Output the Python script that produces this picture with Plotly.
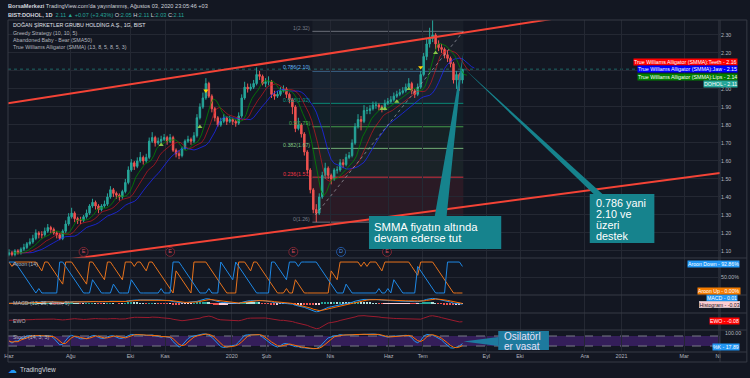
import numpy as np
import pandas as pd
import plotly.graph_objects as go

# ---------------- data (1 candle = 2 sessions) ----------------
close = [1.09,1.08,1.10,1.09,1.11,1.12,1.14,1.15,1.17,1.20,
         1.19,1.19,1.21,1.23,1.22,1.20,1.19,1.17,1.21,1.25,
         1.29,1.31,1.28,1.27,1.27,1.29,1.31,1.35,1.37,1.35,
         1.33,1.35,1.36,1.40,1.44,1.42,1.41,1.40,1.43,1.48,
         1.55,1.59,1.57,1.60,1.62,1.60,1.62,1.71,1.73,1.70,
         1.71,1.72,1.73,1.71,1.73,1.66,1.64,1.63,1.67,1.71,
         1.72,1.71,1.74,1.84,1.90,1.95,2.03,1.96,1.89,1.84,
         1.80,1.82,1.84,1.82,1.83,1.82,1.81,1.85,1.95,2.01,
         2.00,2.01,2.03,2.08,2.07,2.03,2.04,2.04,1.97,1.96,
         1.97,1.99,2.00,1.97,1.94,1.90,1.78,1.80,1.75,1.65,
         1.55,1.44,1.33,1.31,1.40,1.52,1.56,1.52,1.50,1.55,
         1.55,1.59,1.58,1.62,1.63,1.70,1.79,1.83,1.82,1.88,
         1.88,1.89,1.91,1.91,1.90,1.89,1.92,1.93,1.94,1.96,
         1.97,1.98,1.99,2.01,2.03,1.99,1.97,2.01,2.08,2.18,
         2.25,2.28,2.30,2.25,2.23,2.22,2.19,2.17,2.14,2.05,
         2.08,2.05,2.11]
high = [1.11,1.10,1.11,1.11,1.12,1.14,1.15,1.17,1.19,1.22,
        1.21,1.21,1.23,1.25,1.24,1.23,1.21,1.20,1.22,1.27,
        1.31,1.34,1.32,1.29,1.29,1.30,1.33,1.36,1.39,1.38,
        1.36,1.36,1.38,1.42,1.46,1.45,1.43,1.42,1.44,1.50,
        1.57,1.61,1.60,1.62,1.65,1.63,1.64,1.73,1.76,1.74,
        1.73,1.74,1.75,1.74,1.75,1.74,1.67,1.66,1.68,1.72,
        1.74,1.73,1.76,1.86,1.92,1.98,2.06,2.04,1.97,1.90,
        1.85,1.84,1.86,1.85,1.85,1.84,1.83,1.87,1.97,2.04,
        2.03,2.03,2.05,2.12,2.10,2.08,2.06,2.07,2.05,1.99,
        1.99,2.01,2.02,2.01,1.98,1.95,1.91,1.84,1.81,1.76,
        1.66,1.56,1.45,1.36,1.42,1.54,1.59,1.57,1.53,1.56,
        1.57,1.61,1.61,1.64,1.65,1.72,1.81,1.86,1.85,1.91,
        1.90,1.91,1.93,1.93,1.92,1.91,1.94,1.95,1.96,1.98,
        1.99,2.00,2.01,2.03,2.06,2.04,2.00,2.03,2.10,2.20,
        2.28,2.34,2.40,2.31,2.27,2.25,2.23,2.21,2.18,2.15,
        2.10,2.09,2.11]
low = [1.07,1.07,1.07,1.08,1.08,1.10,1.11,1.13,1.14,1.16,
       1.17,1.17,1.18,1.20,1.20,1.19,1.17,1.16,1.16,1.20,
       1.24,1.28,1.26,1.25,1.25,1.26,1.28,1.30,1.34,1.33,
       1.31,1.32,1.34,1.35,1.39,1.40,1.39,1.38,1.39,1.42,
       1.47,1.54,1.55,1.56,1.59,1.58,1.59,1.61,1.70,1.68,
       1.69,1.70,1.71,1.69,1.70,1.65,1.62,1.61,1.62,1.66,
       1.70,1.69,1.70,1.73,1.83,1.89,1.94,1.95,1.87,1.82,
       1.79,1.79,1.81,1.80,1.81,1.80,1.79,1.80,1.84,1.94,
       1.98,1.99,2.00,2.02,2.05,2.02,2.01,2.02,1.95,1.94,
       1.95,1.96,1.98,1.95,1.92,1.86,1.76,1.77,1.73,1.63,
       1.53,1.42,1.31,1.26,1.30,1.39,1.50,1.50,1.47,1.49,
       1.53,1.54,1.56,1.57,1.61,1.62,1.69,1.78,1.77,1.81,
       1.86,1.86,1.88,1.89,1.88,1.87,1.88,1.91,1.92,1.93,
       1.95,1.96,1.97,1.98,2.00,1.97,1.95,1.96,2.00,2.07,
       2.16,2.23,2.26,2.22,2.21,2.20,2.17,2.15,2.12,2.03,
       2.00,1.99,2.03]
open_first = 1.08

month_labels = ["Haz", "Ağu", "Eki", "Kas", "2020", "Şub", "Nis", "Haz", "Tem",
                "Eyl", "Eki", "Ara", "2021", "Mar", "Ni"]
month_pos = [0, 20.7, 40.7, 52.3, 74.7, 86.3, 107.7, 127.3, 138.7,
             160, 171.3, 193, 205.3, 226.3, 237.7]

price_ticks = [1.10, 1.20, 1.30, 1.40, 1.50, 1.60, 1.70, 1.80, 1.90, 2.00, 2.10, 2.20, 2.30]
hidden_ticks = [2.10]   # covered by the value tags in the reference

fib_ratios = ["0", "0.236", "0.382", "0.5", "0.618", "0.786", "1"]
fib_prices = [1.26, 1.51, 1.67, 1.79, 1.92, 2.10, 2.32]
fib_colors = ["#787b86", "#f23645", "#81c784", "#4caf50", "#089981", "#64b5f6", "#787b86"]
fib_x = [101.7, 152.3]
fib_trend_x = [102.7, 152.3]
fib_trend_y = [1.30, 2.32]

upper_ch_x = [-1.67, 158.3]
upper_ch_y = [1.917, 2.328]
lower_ch_x = [91.7, 238.3]
lower_ch_y = [1.211, 1.533]

greedy_x = [51, 64, 66, 125, 126, 130, 134, 138, 143]
greedy_y = [1.69, 1.79, 1.99, 1.89, 1.89, 1.93, 2.00, 2.12, 2.20]
greedy_up = [True, True, False, True, True, True, True, False, True]

baby_x = [25, 54, 95.3, 111.3, 126.7]
baby_letter = ["E", "E", "E", "D", "E"]
baby_level = 1.095

alligator_len = [6.5, 4, 2.5]      # jaw, teeth, lips (13, 8, 5 sessions)
alligator_shift = [4, 2.5, 1.5]    # (8, 5, 3 sessions)

price_tags = [("True Williams Alligator (SMMA):Teeth", "2.16", "#ff0000"),
              ("True Williams Alligator (SMMA):Jaw", "2.15", "#0000ff"),
              ("True Williams Alligator (SMMA):Lips", "2.14", "#008000"),
              ("DOHOL", "2.11", "#26a69a")]
last_price = 2.11

# ---------------- geometry helpers ----------------
W, H = 750, 378
ML, MR, MT, MB = 4, 30, 20, 16
PW = W - ML - MR
PH = H - MT - MB
def X(px): return (px - ML) / PW
def Y(py): return (H - MB - py) / PH
def u(px): return (px - 5) / 3.0

BG = "#131722"
GRID = "#242833"
SEP = "#363a45"
TXT = "#b2b5be"
FONT = "Liberation Sans"
UP, DN = "#26a69a", "#ef5350"

c = np.array(close); h = np.array(high); l = np.array(low)
o = np.array([open_first] + close[:-1])
n = len(c)
xs = np.arange(n)

# ---------------- indicators computed from the price arrays ----------------
hl2 = (h + l) / 2
def smma(src, length):
    out = np.empty_like(src); out[0] = src[0]
    for i in range(1, len(src)):
        out[i] = (out[i - 1] * (length - 1) + src[i]) / length
    return out
jaw, teeth, lips = (smma(hl2, L) for L in alligator_len)

P = 7
a_up, a_dn = [], []
for i in range(n):
    s = max(0, i - P)
    wh, wl = h[s:i + 1], l[s:i + 1]
    jh = s + len(wh) - 1 - int(np.argmax(wh[::-1]))
    jl = s + len(wl) - 1 - int(np.argmin(wl[::-1]))
    a_up.append(100 * (P - (i - jh)) / P)
    a_dn.append(100 * (P - (i - jl)) / P)

cs = pd.Series(c)
macd = cs.ewm(span=6, adjust=False).mean() - cs.ewm(span=13, adjust=False).mean()
sig = macd.ewm(span=4.5, adjust=False).mean()
hist = (macd - sig).values
hcol = []
for i in range(n):
    prev = hist[i - 1] if i else 0
    if hist[i] >= 0:
        hcol.append("#26a69a" if hist[i] >= prev else "#b2dfdb")
    else:
        hcol.append("#ffcdd2" if hist[i] > prev else "#ef5350")
ewo = (cs.rolling(3, min_periods=1).mean() - cs.rolling(17, min_periods=1).mean()).values

ll = pd.Series(l).rolling(7, min_periods=1).min()
hh = pd.Series(h).rolling(7, min_periods=1).max()
raw = (100 * (cs - ll) / (hh - ll).replace(0, np.nan)).fillna(50)
stk = raw.rolling(3, min_periods=1).mean()
std = stk.rolling(3, min_periods=1).mean()

# ---------------- figure ----------------
fig = go.Figure()
shapes, ann = [], []

def rgba(hexc, a):
    hexc = hexc.lstrip("#")
    return "rgba(%d,%d,%d,%.2f)" % (int(hexc[0:2], 16), int(hexc[2:4], 16), int(hexc[4:6], 16), a)

YMAIN = [1.061, 2.383]
XR = [u(ML), u(ML + PW)]

# fib bands + levels
for k in range(len(fib_prices)):
    y0 = fib_prices[k]
    y1 = fib_prices[k + 1] if k + 1 < len(fib_prices) else YMAIN[1]
    col = fib_colors[k + 1] if k + 1 < len(fib_prices) else "#787b86"
    shapes.append(dict(type="rect", xref="x", yref="y", x0=fib_x[0], x1=fib_x[1], y0=y0, y1=y1,
                       fillcolor=rgba(col, 0.10 if k == 0 else 0.07), line=dict(width=0), layer="below"))
for k, p in enumerate(fib_prices):
    shapes.append(dict(type="line", xref="x", yref="y", x0=fib_x[0], x1=fib_x[1], y0=p, y1=p,
                       line=dict(color=rgba(fib_colors[k], 0.85), width=1), layer="below"))
    ann.append(dict(xref="x", yref="y", x=fib_x[0], y=p, yshift=3.5, text="%s(%.2f)" % (fib_ratios[k], p),
                    showarrow=False, xanchor="right", yanchor="middle",
                    font=dict(size=5.3, color=fib_colors[k], family=FONT)))

# last price dotted line
shapes.append(dict(type="line", xref="paper", yref="y", x0=0, x1=1, y0=last_price, y1=last_price,
                   line=dict(color="rgba(38,166,154,0.55)", width=1, dash="dot"), layer="below"))

fig.add_trace(go.Candlestick(x=xs, open=o, high=h, low=l, close=c,
                             increasing=dict(line=dict(color=UP, width=1), fillcolor=UP),
                             decreasing=dict(line=dict(color=DN, width=1), fillcolor=DN),
                             whiskerwidth=0, xaxis="x", yaxis="y", showlegend=False, hoverinfo="skip"))

for arr, sh, col in [(jaw, alligator_shift[0], "rgba(30,40,255,0.75)"),
                     (teeth, alligator_shift[1], "rgba(230,20,30,0.6)"),
                     (lips, alligator_shift[2], "rgba(0,140,0,0.75)")]:
    fig.add_trace(go.Scatter(x=xs + sh, y=arr, mode="lines", line=dict(color=col, width=1),
                             xaxis="x", yaxis="y", showlegend=False, hoverinfo="skip"))

def extend(xp, yp):
    s = (yp[1] - yp[0]) / (xp[1] - xp[0])
    return [XR[0], XR[1]], [yp[0] + s * (XR[0] - xp[0]), yp[0] + s * (XR[1] - xp[0])]
for xp, yp in [(upper_ch_x, upper_ch_y), (lower_ch_x, lower_ch_y)]:
    ex, ey = extend(xp, yp)
    fig.add_trace(go.Scatter(x=ex, y=ey, mode="lines", line=dict(color="#f44336", width=2),
                             xaxis="x", yaxis="y", showlegend=False, hoverinfo="skip"))

fig.add_trace(go.Scatter(x=fib_trend_x, y=fib_trend_y, mode="lines",
                         line=dict(color="rgba(180,183,192,0.6)", width=1, dash="dot"),
                         xaxis="x", yaxis="y", showlegend=False, hoverinfo="skip"))

fig.add_trace(go.Scatter(x=greedy_x, y=greedy_y, mode="markers",
                         marker=dict(symbol=["triangle-up" if g else "triangle-down" for g in greedy_up],
                                     size=4.5, color=["#8bc34a" if g else "#ffd600" for g in greedy_up]),
                         xaxis="x", yaxis="y", showlegend=False, hoverinfo="skip"))

fig.add_trace(go.Scatter(x=baby_x, y=[baby_level] * len(baby_x), mode="markers+text",
                         text=baby_letter, textposition="middle center",
                         textfont=dict(size=5.5, family=FONT,
                                       color=["#d04a5a" if b == "E" else "#4d8fe0" for b in baby_letter]),
                         marker=dict(size=9, color=BG,
                                     line=dict(width=1, color=["#7a2633" if b == "E" else "#23569e" for b in baby_letter])),
                         xaxis="x", yaxis="y", showlegend=False, hoverinfo="skip"))

# Aroon
fig.add_trace(go.Scatter(x=xs, y=a_up, mode="lines", line=dict(color="#e8731c", width=1),
                         xaxis="x2", yaxis="y2", showlegend=False, hoverinfo="skip"))
fig.add_trace(go.Scatter(x=xs, y=a_dn, mode="lines", line=dict(color="#1e88e5", width=1),
                         xaxis="x2", yaxis="y2", showlegend=False, hoverinfo="skip"))
# MACD
fig.add_trace(go.Bar(x=xs, y=hist, marker=dict(color=hcol, line=dict(width=0)), width=0.6,
                     xaxis="x3", yaxis="y3", showlegend=False, hoverinfo="skip"))
fig.add_trace(go.Scatter(x=xs, y=macd, mode="lines", line=dict(color="#2196f3", width=1),
                         xaxis="x3", yaxis="y3", showlegend=False, hoverinfo="skip"))
fig.add_trace(go.Scatter(x=xs, y=sig, mode="lines", line=dict(color="#ff6d00", width=1),
                         xaxis="x3", yaxis="y3", showlegend=False, hoverinfo="skip"))
# EWO
fig.add_trace(go.Scatter(x=xs, y=ewo, mode="lines", line=dict(color="#9c1b2e", width=1),
                         xaxis="x4", yaxis="y4", showlegend=False, hoverinfo="skip"))
# Stoch
shapes.append(dict(type="rect", xref="paper", yref="y5", x0=0, x1=1, y0=20, y1=80,
                   fillcolor="rgba(94,40,160,0.45)", line=dict(width=0), layer="below"))
for lv in (20, 80):
    shapes.append(dict(type="line", xref="paper", yref="y5", x0=0, x1=1, y0=lv, y1=lv,
                       line=dict(color="#787b86", width=1, dash="dash"), layer="below"))
fig.add_trace(go.Scatter(x=xs, y=stk, mode="lines", line=dict(color="#2196f3", width=1),
                         xaxis="x5", yaxis="y5", showlegend=False, hoverinfo="skip"))
fig.add_trace(go.Scatter(x=xs, y=std, mode="lines", line=dict(color="#ff6d00", width=1),
                         xaxis="x5", yaxis="y5", showlegend=False, hoverinfo="skip"))

def rng(*arrs, top=0.12, bot=0.12):
    v = np.concatenate([np.asarray(a, dtype=float) for a in arrs])
    lo, hi = np.nanmin(v), np.nanmax(v)
    s = hi - lo
    return [lo - bot * s, hi + top * s]

# ---------------- frame / separators ----------------
for py in (MT, 258, 295, 313, 330, 352, H - MB):
    shapes.append(dict(type="line", xref="paper", yref="paper", x0=X(4), x1=X(747), y0=Y(py), y1=Y(py),
                       line=dict(color=SEP, width=1)))
for px in (4, 720, 747):
    shapes.append(dict(type="line", xref="paper", yref="paper", x0=X(px), x1=X(px), y0=Y(MT), y1=Y(H - MB),
                       line=dict(color=SEP, width=1)))

# ---------------- texts ----------------
def txt(px, py, s, size=5.4, color=TXT, xanchor="left", bg=None, bc=None):
    d = dict(xref="paper", yref="paper", x=X(px), y=Y(py), text=s, showarrow=False,
             xanchor=xanchor, yanchor="middle", font=dict(size=size, color=color, family=FONT))
    if bg:
        d.update(bgcolor=bg, borderpad=0)
    if bc:
        d.update(bordercolor=bc, borderwidth=0.5)
    ann.append(d)

G = "#26a69a"
txt(2, 6, "<b>BorsaMerkezi</b> TradingView.com'da yayınlanmış, Ağustos 03, 2020 23:05:46 +03", 5.6, "#d1d4dc")
txt(2, 15, "<b>BIST:DOHOL, 1D</b>  <span style='color:%s'>2.11 ▲ +0.07 (+3.43%%)</span> O:<span style='color:%s'>2.05</span> H:<span style='color:%s'>2.11</span> L:<span style='color:%s'>2.03</span> C:<span style='color:%s'>2.11</span>" % (G, G, G, G, G), 5.6, "#d1d4dc")
txt(7, 25, "DOĞAN ŞİRKETLER GRUBU HOLDİNG A.Ş., 1G, BIST", 5.3, "#e0e3eb")
txt(7, 32.7, "Greedy Strategy (10, 10, 5)", 5.3)
txt(7, 40, "Abandoned Baby - Bear (SMA50)", 5.3)
txt(7, 47.5, "True Williams Alligator (SMMA) (13, 8, 5, 8, 5, 3)", 5.3)
txt(7, 264, "Aroon (14)", 5.3)
txt(7, 302.5, "MACD (12, 26, close, 9)", 5.3)
txt(7, 320.5, "EWO", 5.3)
txt(7, 337, "Stoch (14, 3, 3)", 5.3)

for (name, val, col), py in zip(price_tags, (61.5, 69, 76.5, 84)):
    txt(738, py, "%s - %s" % (name, val), 5.3, "#ffffff", "right", col)

txt(723, 333, "100.00", 5.3)
txt(740, 264, "Aroon Down - 92.86%", 5.2, "#ffffff", "right", "#2196f3")
txt(738, 298, "MACD - 0.01", 5.2, "#ffffff", "right", "#2196f3")
txt(741, 290.8, "Aroon Up - 0.00%", 5.2, "#ffffff", "right", "#f57c00")
txt(740, 304.8, "Histogram - -0.03", 5.2, "#131722", "right", "#ffcdd2", "#d1d4dc")
txt(740, 320.5, "EWO - -0.08", 5.2, "#ffffff", "right", "#ff0000")
txt(740, 346.5, "%K - 17.89", 5.2, "#ffffff", "right", "#2196f3")

# callouts
def poly(pts, color):
    d = "M " + " L ".join("%.5f,%.5f" % (X(a), Y(b)) for a, b in pts) + " Z"
    shapes.append(dict(type="path", xref="paper", yref="paper", path=d, fillcolor=color, line=dict(width=0)))

C1, C3 = "#16838d", "#1d7a9e"
poly([(433, 217), (462, 52), (445, 217)], C1)
poly([(367, 216), (500, 216), (500, 249), (367, 249)], C1)
txt(370, 226.8, "SMMA fiyatın altında", 11.3, "#ffffff")
txt(370, 237.6, "devam ederse tut", 11.3, "#ffffff")

poly([(595, 196), (462, 68), (604, 196)], C1)
poly([(589, 194), (654, 194), (654, 243), (589, 243)], C1)
for t, py in zip(["0.786 yani", "2.10 ve", "üzeri", "destek"], (203, 214, 225, 236)):
    txt(593, py, t, 10.8, "#ffffff")

poly([(497, 337), (462, 341.5), (497, 346)], C3)
poly([(497, 331), (548, 331), (548, 350), (497, 350)], C3)
txt(501, 336, "Osilatörl", 10, "#e8e0f8")
txt(501, 346.3, "er vasat", 10, "#e8e0f8")

# logo
txt(2, 370, "☁", 9, "#2196f3")
txt(14, 370, "TradingView", 6.5, "#d1d4dc")

# ---------------- axes ----------------
xc = dict(range=XR, tickmode="array", tickvals=month_pos, ticktext=month_labels, showgrid=True,
          gridcolor=GRID, gridwidth=1, zeroline=False, showline=False, ticks="", fixedrange=True)
ybase = dict(side="right", zeroline=False, showline=False, ticks="", fixedrange=True,
             tickfont=dict(size=5.3, color=TXT, family=FONT))

fig.update_layout(
    width=W, height=H, autosize=False,
    margin=dict(l=ML, r=MR, t=MT, b=MB),
    paper_bgcolor=BG, plot_bgcolor=BG,
    showlegend=False, hovermode=False, dragmode=False, bargap=0,
    font=dict(family=FONT, color=TXT),
    xaxis=dict(**xc, anchor="y", showticklabels=False, rangeslider=dict(visible=False)),
    xaxis2=dict(**xc, anchor="y2", matches="x", showticklabels=False),
    xaxis3=dict(**xc, anchor="y3", matches="x", showticklabels=False),
    xaxis4=dict(**xc, anchor="y4", matches="x", showticklabels=False),
    xaxis5=dict(**xc, anchor="y5", matches="x", showticklabels=True,
                tickfont=dict(size=5.4, color=TXT, family=FONT)),
    yaxis=dict(**ybase, domain=[Y(258), Y(MT)], range=YMAIN, tickmode="array", tickvals=price_ticks,
               ticktext=["" if p in hidden_ticks else "%.2f" % p for p in price_ticks],
               showgrid=True, gridcolor=GRID),
    yaxis2=dict(**ybase, domain=[Y(295), Y(258)], range=[-6.5, 113], tickmode="array",
                tickvals=[50], ticktext=["50.00%"], showgrid=True, gridcolor=GRID),
    yaxis3=dict(**ybase, domain=[Y(313), Y(295)], range=rng(macd, sig, hist, top=0.25, bot=0.08),
                showgrid=False, showticklabels=False),
    yaxis4=dict(**ybase, domain=[Y(330), Y(313)], range=rng(ewo, top=0.2, bot=0.1),
                showgrid=False, showticklabels=False),
    yaxis5=dict(**ybase, domain=[Y(352), Y(330)], range=[-16, 116], showgrid=False, showticklabels=False),
    shapes=shapes, annotations=ann,
)

fig.write_html("out.html", config={"displayModeBar": False},
               post_script="document.body.style.margin='0';document.body.style.background='%s';" % BG)
